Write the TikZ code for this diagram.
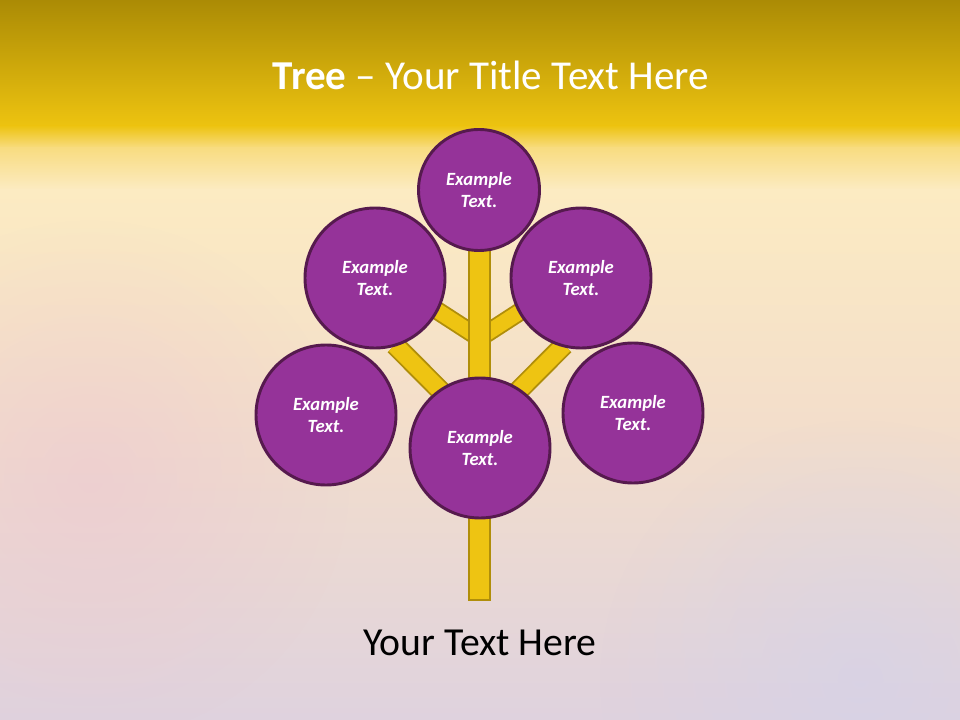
\documentclass[tikz,border=0pt]{standalone}
\usepackage{fontspec}
\setmainfont{Carlito}
\usetikzlibrary{fadings}
\tikzfading[name=softdot, inner color=transparent!0, outer color=transparent!100]
\definecolor{goldTop}{HTML}{AB8B05}
\definecolor{goldBand}{HTML}{EDC310}
\definecolor{paleA}{HTML}{F8DC80}
\definecolor{paleB}{HTML}{FCEBC2}
\definecolor{paleC}{HTML}{F3DECB}
\definecolor{paleD}{HTML}{DFD2DE}
\definecolor{pinkGlow}{HTML}{ECC4D2}
\definecolor{blueGlow}{HTML}{D2D2EB}
\definecolor{trunkFill}{HTML}{EEC412}
\definecolor{trunkLine}{HTML}{B08E0A}
\definecolor{circFill}{HTML}{953399}
\definecolor{circLine}{HTML}{561A4E}
\tikzset{
  bubble/.style={circle, fill=circFill, draw=circLine, line width=2.2pt,
    minimum size=#1*0.75pt, inner sep=0pt, text=white,
    font=\fontsize{14pt}{17pt}\selectfont\bfseries\itshape, align=center},
  branch/.style={draw=trunkLine, line width=1.4pt, double=trunkFill, double distance=#1*0.75pt},
  trunkbox/.style={draw=trunkLine, fill=trunkFill, line width=1.4pt}
}
\begin{document}
\begin{tikzpicture}[x=0.75pt,y=-0.75pt]
\useasboundingbox (0,0) rectangle (960,720);
% background
\shade[top color=goldTop, bottom color=goldBand] (0,0) rectangle (960,126);
\shade[top color=goldBand, bottom color=paleA] (0,125.5) rectangle (960,148);
\shade[top color=paleA, bottom color=paleB] (0,147.5) rectangle (960,190);
\shade[top color=paleB, bottom color=paleC] (0,189.5) rectangle (960,420);
\shade[top color=paleC, bottom color=paleD] (0,419.5) rectangle (960,720);
\begin{scope}
\clip (0,130) rectangle (960,720);
\fill[pinkGlow, path fading=softdot, opacity=0.5] (90,480) circle (260);
\fill[blueGlow, path fading=softdot, opacity=0.55] (860,680) circle (260);
\end{scope}
% title
\node[text=white, font=\fontsize{30.8pt}{36pt}\selectfont] (title) at (491,75) {\textbf{Tree} – Your Title Text Here};
% junction coordinates on the trunk
\coordinate (jUp) at (479.5,338);
\coordinate (jLow) at (479.5,430);
\coordinate (eUL) at (390,280);
\coordinate (eUR) at (569,280);
\coordinate (eLL) at (395,345);
\coordinate (eLR) at (564,345);
% branches
\draw[branch=15] (jUp) -- (eUL);
\draw[branch=15] (jUp) -- (eUR);
\draw[branch=17] (jLow) -- (eLL);
\draw[branch=17] (jLow) -- (eLR);
% trunk
\draw[trunkbox] (469,245) rectangle (490,600);
% circles
\node[bubble=121] (top) at (479,190) {Example\\Text.};
\node[bubble=140] (ul) at (375,278) {Example\\Text.};
\node[bubble=140] (ur) at (581,278) {Example\\Text.};
\node[bubble=140] (ll) at (326,415) {Example\\Text.};
\node[bubble=140] (lr) at (633,413) {Example\\Text.};
\node[bubble=140] (mid) at (480,448) {Example\\Text.};
% footer text
\node[text=black, font=\fontsize{29.8pt}{34pt}\selectfont] (foot) at (480,643) {Your Text Here};
\end{tikzpicture}
\end{document}
